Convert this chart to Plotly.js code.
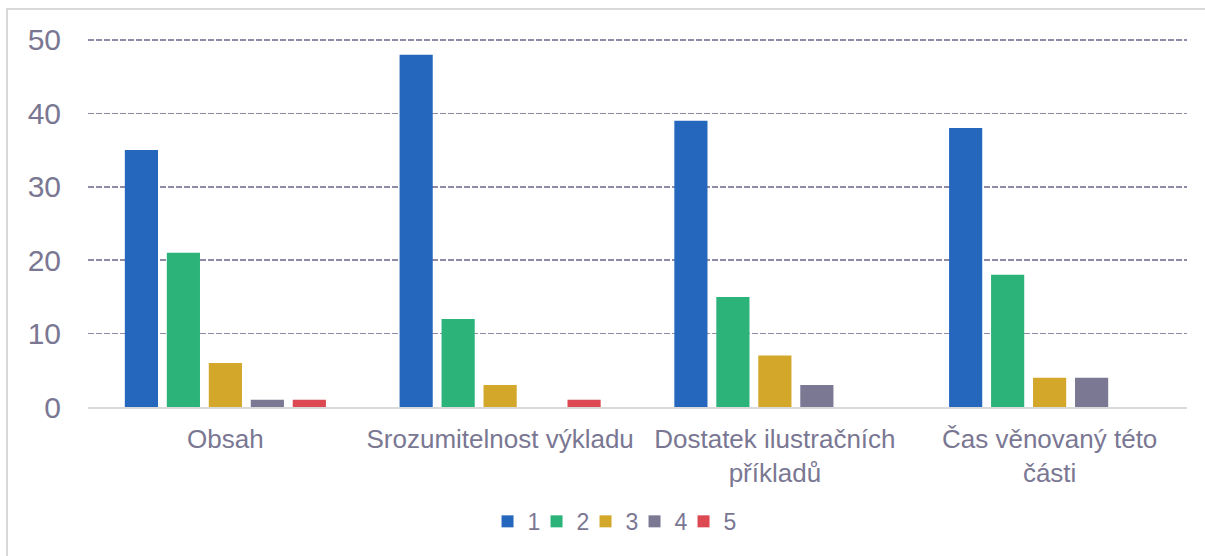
<!DOCTYPE html>
<html>
<head>
<meta charset="utf-8">
<script src="https://cdn.plot.ly/plotly-3.0.1.min.js"></script>
<style>
html,body{margin:0;padding:0;background:#fff;overflow:hidden;}
#wrap{position:relative;width:1205px;height:556px;}
#chart{position:absolute;left:0;top:0;width:1205px;height:556px;}
#frame{position:absolute;left:6px;top:8px;width:1300px;height:700px;border:2px solid #D9D9D9;pointer-events:none;}
.legend .scrollbox{clip-path:none !important;}
</style>
</head>
<body>
<div id="wrap"><div id="chart"></div><div id="frame"></div></div>
<script>
const categories = ["Obsah", "Srozumitelnost výkladu", "Dostatek ilustračních<br>příkladů", "Čas věnovaný této<br>části"];
const seriesNames = ["1", "2", "3", "4", "5"];
const s1 = [35, 48, 39, 38];
const s2 = [21, 12, 15, 18];
const s3 = [6, 3, 7, 4];
const s4 = [1, 0, 3, 4];
const s5 = [1, 1, 0, 0];
const yTicks = [0, 10, 20, 30, 40, 50];

const colors = ["#2567BD", "#2CB37A", "#D3A82A", "#7B7893", "#DC4952"];
const values = [s1, s2, s3, s4, s5];
const textColor = "#7A7793";

const traces = values.map((v, i) => ({
  type: "bar",
  name: seriesNames[i],
  x: categories,
  y: v,
  marker: {color: colors[i], line: {width: 0}},
  hoverinfo: "skip"
}));

const layout = {
  width: 1205, height: 556,
  margin: {l: 88, r: 18, t: 38, b: 149, autoexpand: false},
  paper_bgcolor: "rgba(0,0,0,0)",
  plot_bgcolor: "rgba(0,0,0,0)",
  font: {family: "Liberation Sans, Arial, sans-serif", color: textColor, size: 26},
  barmode: "group",
  bargap: 0.236,
  bargroupgap: 0.21,
  showlegend: true,
  legend: {
    orientation: "h", x: 0.475, xanchor: "center", y: -0.31, yanchor: "middle",
    font: {size: 23, color: textColor}, traceorder: "normal",
    entrywidth: 4, itemwidth: 30
  },
  xaxis: {
    type: "category", automargin: false,
    showgrid: false, zeroline: false,
    showline: true, linecolor: "#D9D9D9", linewidth: 2,
    ticks: "", tickfont: {size: 26, color: textColor},
    ticklabelstandoff: 8,
    fixedrange: true
  },
  yaxis: {
    range: [0, 50.27], tickvals: yTicks, ticktext: yTicks.map(String),
    automargin: false,
    showgrid: true, gridcolor: "#8E8BA6", gridwidth: 1.5, griddash: "6px,2px",
    zeroline: false, showline: false, ticks: "",
    tickfont: {size: 30, color: textColor},
    ticklabelstandoff: 26,
    fixedrange: true
  }
};

Plotly.newPlot("chart", traces, layout, {displayModeBar: false, staticPlot: true});
</script>
</body>
</html>
